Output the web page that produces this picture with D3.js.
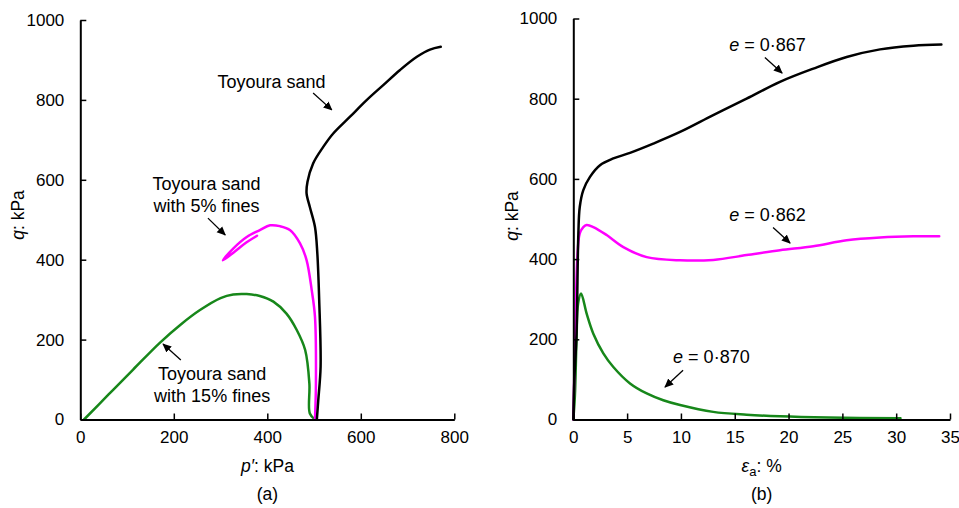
<!DOCTYPE html>
<html>
<head>
<meta charset="utf-8">
<script src="https://cdn.jsdelivr.net/npm/d3@7"></script>
<style>
  html, body { margin: 0; padding: 0; background: #fff; }
  svg { display: block; font-family: "Liberation Sans", Arial, sans-serif; }
</style>
</head>
<body>
<svg id="chart" width="959" height="508"></svg>
<script>
// ---------- Data ----------
// Panel (a): stress paths, p' (kPa) vs q (kPa)
const pathToyoura_p = [506, 509, 514, 511, 507, 502, 491, 484, 486, 498, 520, 541, 577, 613, 648, 684, 720, 748, 771];
const pathToyoura_q = [0, 48, 132, 299, 416, 482, 532, 566, 595, 641, 683, 716, 758, 800, 837, 875, 908, 926, 933];

const path5_p = [502, 504, 502, 495, 484, 470, 449, 427, 406, 384, 356, 327, 305, 330, 355, 378];
const path5_q = [0, 90, 257, 324, 399, 441, 474, 484, 486, 474, 457, 428, 398, 420, 443, 460];

const path15_p = [502, 491, 490, 481, 463, 441, 413, 384, 356, 327, 300, 256, 215, 170, 113, 60, 8];
const path15_q = [0, 15, 90, 174, 224, 265, 295, 309, 314, 313, 304, 274, 238, 192, 125, 62, 0];

// Panel (b): stress-strain, axial strain (%) vs q (kPa)
const curve867_e = [0, 0.1, 0.3, 0.47, 0.6, 0.93, 1.55, 2.48, 3.72, 5.27, 7.43, 9.92, 13.0, 16.1, 19.2, 22.3, 25.4, 28.5, 31.6, 34.2];
const curve867_q = [0, 100, 214, 464, 530, 572, 605, 634, 651, 665, 688, 717, 759, 800, 842, 875, 904, 923, 932, 935];

const curve862_e = [0, 0.1, 0.25, 0.37, 0.6, 0.93, 1.24, 1.86, 3.1, 4.65, 6.82, 9.92, 13.0, 16.1, 19.2, 22.3, 25.4, 28.5, 31.6, 34.0];
const curve862_q = [0, 120, 300, 400, 464, 480, 485, 480, 460, 430, 405, 397, 398, 410, 422, 432, 447, 454, 457, 457];

const curve870_e = [0, 0.15, 0.3, 0.45, 0.72, 1.24, 1.86, 2.79, 3.72, 5.27, 6.82, 8.36, 9.92, 13.0, 16.1, 19.2, 23.7, 30.4];
const curve870_q = [0, 60, 200, 290, 314, 264, 214, 165, 131, 90, 65, 48, 36, 19, 12, 8, 5, 3];

// Tick values
const ticksP = [0, 200, 400, 600, 800];
const ticksQ = [0, 200, 400, 600, 800, 1000];
const ticksE = [0, 5, 10, 15, 20, 25, 30, 35];

// Annotation labels and anchors (data units)
const annotA = [
  { lines: ["Toyoura sand"], x: 409, y: 831, from: [498, 817], to: [538, 775] },
  { lines: ["Toyoura sand", "with 5% fines"], x: 270, y: 574, from: [273, 504], to: [310, 462] },
  { lines: ["Toyoura sand", "with 15% fines"], x: 282, y: 98, from: [215, 149], to: [177, 189] }
];
const annotB = [
  { value: "0·867", x: 18.05, y: 919, from: [17.8, 903], to: [19.4, 864] },
  { value: "0·862", x: 18.05, y: 495, from: [18.56, 479], to: [20.14, 440] },
  { value: "0·870", x: 12.83, y: 140, from: [10.2, 123], to: [8.52, 81] }
];

const colBlack = "#000000", colMagenta = "#ff00ff", colGreen = "#17871a";

// ---------- Drawing ----------
const svg = d3.select("#chart");
const defs = svg.append("defs");
defs.append("marker")
  .attr("id", "arrow")
  .attr("viewBox", "0 0 10 10")
  .attr("refX", 9).attr("refY", 5)
  .attr("markerWidth", 9).attr("markerHeight", 9)
  .attr("markerUnits", "userSpaceOnUse")
  .attr("orient", "auto")
  .append("path").attr("d", "M0,0.5 L10,5 L0,9.5 Z").attr("fill", "#000");

const FS_TICK = 17, FS_TITLE = 17.5, FS_ANN = 18;

function zip(xs, ys) { return xs.map((x, i) => [x, ys[i]]); }

function panel(cfg) {
  const g = svg.append("g");
  const x = d3.scaleLinear().domain(cfg.xDomain).range(cfg.xRange);
  const y = d3.scaleLinear().domain([0, 1000]).range(cfg.yRange);

  const line = d3.line().x(d => x(d[0])).y(d => y(d[1])).curve(d3.curveCatmullRom.alpha(0.5));
  cfg.series.forEach(s => {
    g.append("path")
      .attr("d", line(s.data))
      .attr("fill", "none")
      .attr("stroke", s.color)
      .attr("stroke-width", 2.5)
      .attr("stroke-linejoin", "round")
      .attr("stroke-linecap", "round");
  });

  const xAxis = d3.axisBottom(x).tickValues(cfg.xTicks).tickFormat(d3.format("d"))
    .tickSizeInner(-6).tickSizeOuter(0).tickPadding(11);
  const yAxis = d3.axisLeft(y).tickValues(ticksQ).tickFormat(d3.format("d"))
    .tickSizeInner(-6).tickSizeOuter(0).tickPadding(16);

  const gx = g.append("g").attr("transform", `translate(0,${cfg.yRange[0]})`).call(xAxis);
  const gy = g.append("g").attr("transform", `translate(${cfg.xRange[0]},0)`).call(yAxis);
  [gx, gy].forEach(a => {
    a.select(".domain").attr("stroke", "#000").attr("stroke-width", 2);
    a.selectAll(".tick line").attr("stroke", "#000").attr("stroke-width", 1.5);
    a.selectAll(".tick text").attr("fill", "#000").style("font-size", FS_TICK + "px")
      .style("font-family", "'Liberation Sans', Arial, sans-serif");
  });

  // axis titles
  const xt = g.append("text").attr("x", cfg.xTitleX).attr("y", 472)
    .attr("text-anchor", "middle").style("font-size", FS_TITLE + "px");
  cfg.xTitle(xt);
  g.append("text").attr("x", cfg.xTitleX).attr("y", 500)
    .attr("text-anchor", "middle").style("font-size", FS_TITLE + "px").text(cfg.caption);

  const yt = g.append("text")
    .attr("transform", `translate(${cfg.yTitleX},${cfg.yTitleY}) rotate(-90)`)
    .attr("text-anchor", "middle").style("font-size", FS_TITLE + "px");
  yt.append("tspan").style("font-style", "italic").text("q");
  yt.append("tspan").text(": kPa");

  return { g, x, y };
}

const A = panel({
  xDomain: [0, 800], xRange: [80.3, 454.3], yRange: [419.5, 20],
  xTicks: ticksP,
  xTitleX: 267.5,
  yTitleX: 24, yTitleY: 215,
  caption: "(a)",
  xTitle: t => { t.append("tspan").style("font-style", "italic").text("p′"); t.append("tspan").text(": kPa"); },
  series: [
    { data: zip(path15_p, path15_q), color: colGreen },
    { data: zip(path5_p, path5_q), color: colMagenta },
    { data: zip(pathToyoura_p, pathToyoura_q), color: colBlack }
  ]
});

const B = panel({
  xDomain: [0, 35], xRange: [573.3, 950], yRange: [419.5, 18.5],
  xTicks: ticksE,
  xTitleX: 761.7,
  yTitleX: 518, yTitleY: 216,
  caption: "(b)",
  xTitle: t => {
    t.append("tspan").style("font-style", "italic").text("ε");
    t.append("tspan").attr("dy", 4).style("font-size", "13px").text("a");
    t.append("tspan").attr("dy", -4).text(": %");
  },
  series: [
    { data: zip(curve870_e, curve870_q), color: colGreen },
    { data: zip(curve862_e, curve862_q), color: colMagenta },
    { data: zip(curve867_e, curve867_q), color: colBlack }
  ]
});

function arrow(P, a) {
  P.g.append("line")
    .attr("x1", P.x(a.from[0])).attr("y1", P.y(a.from[1]))
    .attr("x2", P.x(a.to[0])).attr("y2", P.y(a.to[1]))
    .attr("stroke", "#000").attr("stroke-width", 1.3)
    .attr("marker-end", "url(#arrow)");
}

annotA.forEach(a => {
  const t = A.g.append("text").attr("text-anchor", "middle").style("font-size", FS_ANN + "px");
  a.lines.forEach((l, i) => {
    t.append("tspan").attr("x", A.x(a.x)).attr("y", A.y(a.y) + i * 21.7).text(l);
  });
  arrow(A, a);
});

annotB.forEach(a => {
  const t = B.g.append("text").attr("text-anchor", "middle")
    .attr("x", B.x(a.x)).attr("y", B.y(a.y)).style("font-size", FS_ANN + "px");
  t.append("tspan").style("font-style", "italic").text("e");
  t.append("tspan").text(" = " + a.value);
  arrow(B, a);
});
</script>
</body>
</html>
